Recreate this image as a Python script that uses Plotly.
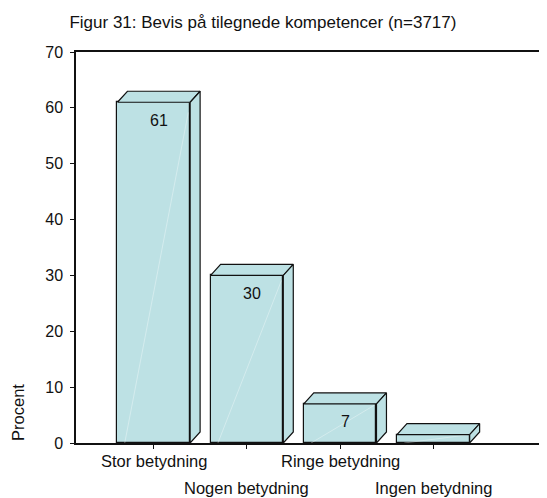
import plotly.graph_objects as go

categories = ["Stor betydning", "Nogen betydning", "Ringe betydning", "Ingen betydning"]
values = [61, 30, 7, 1.5]
value_labels = ["61", "30", "7", ""]
y_ticks = [0, 10, 20, 30, 40, 50, 60, 70]

FILL = "#BDE1E4"
EDGE = "#111111"
FONT = "Liberation Sans, Arial, sans-serif"

bar_w = 0.78
dx = 0.107   # depth offset, x data units
dy = 1.97    # depth offset, y data units

x_pos = list(range(len(categories)))

fig = go.Figure()

# front faces
fig.add_trace(go.Bar(
    x=x_pos, y=values, width=bar_w,
    marker=dict(color=FILL, line=dict(color=EDGE, width=1.2)),
    hoverinfo="skip", showlegend=False,
))

# faint highlight on the front faces + top and side faces
for i, v in enumerate(values):
    x0 = i - bar_w / 2
    x1 = i + bar_w / 2
    fig.add_trace(go.Scatter(
        x=[x0 + bar_w * 0.1, x1 - 0.02], y=[0, v * 0.97], mode="lines",
        line=dict(color="rgba(255,255,255,0.35)", width=1),
        hoverinfo="skip", showlegend=False,
    ))
    # top face
    fig.add_trace(go.Scatter(
        x=[x0, x1, x1 + dx, x0 + dx, x0], y=[v, v, v + dy, v + dy, v],
        mode="lines", fill="toself", fillcolor=FILL,
        line=dict(color=EDGE, width=1.2),
        hoverinfo="skip", showlegend=False,
    ))
    # side face
    fig.add_trace(go.Scatter(
        x=[x1, x1 + dx, x1 + dx, x1, x1], y=[0, dy, v + dy, v, 0],
        mode="lines", fill="toself", fillcolor=FILL,
        line=dict(color=EDGE, width=1.2),
        hoverinfo="skip", showlegend=False,
    ))

# value labels inside the bars
for i, (v, t) in enumerate(zip(values, value_labels)):
    if t:
        fig.add_annotation(x=i + dx / 2, y=v, text=t, showarrow=False,
                           yshift=-18, font=dict(size=16, color="#111111"))

# staggered category labels
for i, c in enumerate(categories):
    fig.add_annotation(x=i, y=0, yref="paper", text=c, showarrow=False,
                       yanchor="middle", yshift=-18 if i % 2 == 0 else -45,
                       font=dict(size=16.5, color="#111111"))

fig.add_annotation(x=-0.123, y=0.077, xref="paper", yref="paper", text="Procent",
                   textangle=-90, showarrow=False, xanchor="center", yanchor="middle",
                   font=dict(size=16.5, color="#111111"))

# page body has an 8px margin, so the figure is sized to the rest of the window
fig.update_layout(
    width=539, height=490,
    margin=dict(l=68, r=0, t=44, b=55),
    paper_bgcolor="white", plot_bgcolor="white",
    font=dict(family=FONT, color="#111111"),
    title=dict(text="Figur 31: Bevis på tilegnede kompetencer (n=3717)",
               x=0.473, xref="container", xanchor="center",
               y=0.971, yref="container", yanchor="middle",
               font=dict(size=17)),
    xaxis=dict(range=[-0.835, 4.22], tickvals=x_pos, ticktext=[""] * len(x_pos),
               showline=True, linecolor=EDGE, linewidth=1.5, mirror=True,
               ticks="outside", ticklen=4, tickcolor=EDGE, showgrid=False,
               zeroline=False, fixedrange=True),
    yaxis=dict(range=[0, 70], tickvals=y_ticks, showline=True, linecolor=EDGE,
               linewidth=1.5, ticks="outside", ticklen=4, tickcolor=EDGE,
               showgrid=False, zeroline=False, tickfont=dict(size=16),
               ticklabelstandoff=4),
    bargap=0,
)

fig.write_html("out.html")
